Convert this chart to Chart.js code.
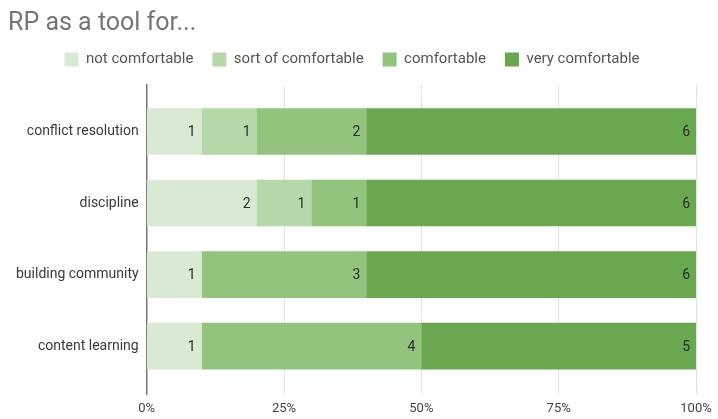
<!DOCTYPE html>
<html>
<head>
<meta charset="utf-8">
<script src="https://cdn.jsdelivr.net/npm/chart.js@4.4.1/dist/chart.umd.min.js"></script>
<style>
  html, body { margin: 0; padding: 0; background: #fff; }
  #wrap { width: 718px; height: 419px; }
</style>
</head>
<body>
<div id="wrap"><canvas id="rpChart" width="718" height="419"></canvas></div>
<script>
// Survey answers: counts per topic
const categories = ['conflict resolution', 'discipline', 'building community', 'content learning'];
const levels = ['not comfortable', 'sort of comfortable', 'comfortable', 'very comfortable'];
const notComfortable = [1, 2, 1, 1];
const sortOfComfortable = [1, 1, 0, 0];
const comfortable = [2, 1, 3, 4];
const veryComfortable = [6, 6, 6, 5];
const xTicks = [0, 25, 50, 75, 100];

const colors = ['#d9ead3', '#b6d7a8', '#93c47d', '#6aa84f'];
const counts = [notComfortable, sortOfComfortable, comfortable, veryComfortable];

// totals per topic, used to turn counts into percentages
const totals = categories.map((c, i) => counts.reduce((s, arr) => s + arr[i], 0));

const datasets = counts.map((arr, d) => ({
    label: levels[d],
    data: arr.map((v, i) => ({ x: v / totals[i] * 100, y: i, count: v })),
    backgroundColor: colors[d],
    borderWidth: 0,
    barThickness: 46
}));

// count labels at the right end of each segment
const countLabels = {
    id: 'countLabels',
    afterDatasetsDraw(chart) {
        const ctx = chart.ctx;
        ctx.save();
        ctx.font = '14px Roboto';
        ctx.fillStyle = '#2a2a2a';
        ctx.textAlign = 'right';
        ctx.textBaseline = 'middle';
        chart.data.datasets.forEach((ds, d) => {
            chart.getDatasetMeta(d).data.forEach((bar, i) => {
                const v = ds.data[i].count;
                if (!v) return;
                ctx.fillText(String(v), bar.x - 6, bar.y + 1);
            });
        });
        ctx.restore();
    }
};

// a little more room between the legend and the bars
const legendSpacing = {
    id: 'legendSpacing',
    beforeInit(chart) {
        const fit = chart.legend.fit;
        chart.legend.fit = function () {
            fit.bind(chart.legend)();
            this.height += 8;
        };
    }
};

new Chart(document.getElementById('rpChart').getContext('2d'), {
    type: 'bar',
    data: { datasets: datasets },
    options: {
        indexAxis: 'y',
        responsive: false,
        animation: false,
        layout: { padding: { left: 8, right: 22, top: 0, bottom: -4 } },
        scales: {
            x: {
                type: 'linear',
                stacked: true,
                min: 0,
                max: 100,
                afterBuildTicks: (scale) => { scale.ticks = xTicks.map(v => ({ value: v })); },
                // keep "100%" hanging past the plot edge
                afterFit: (scale) => { scale.paddingRight = 22; },
                ticks: {
                    callback: (v) => v + '%',
                    color: '#444',
                    font: { family: 'Roboto', size: 13, lineHeight: 1 },
                    padding: 8,
                    maxRotation: 0
                },
                grid: { color: '#e2e2e2', lineWidth: 1, drawTicks: false },
                border: { display: false }
            },
            y: {
                type: 'linear',
                stacked: true,
                reverse: true,
                offset: false,
                min: -0.65,
                max: 3.67,
                afterBuildTicks: (scale) => { scale.ticks = categories.map((c, i) => ({ value: i })); },
                ticks: {
                    callback: (v) => categories[v],
                    color: '#3a3a3a',
                    font: { family: 'Roboto', size: 14 },
                    padding: 8
                },
                grid: { display: false, offset: false, drawTicks: false },
                border: { display: true, color: '#777', width: 1.5 }
            }
        },
        plugins: {
            title: {
                display: true,
                text: 'RP as a tool for...',
                align: 'start',
                color: '#757575',
                font: { family: 'Roboto', size: 25, weight: 'normal', lineHeight: 1 },
                padding: { top: 11, bottom: -3 }
            },
            legend: {
                labels: {
                    boxWidth: 14,
                    boxHeight: 14,
                    padding: 19,
                    color: '#555',
                    font: { family: 'Roboto', size: 15 }
                }
            },
            tooltip: { enabled: false }
        }
    },
    plugins: [countLabels, legendSpacing]
});
</script>
</body>
</html>
